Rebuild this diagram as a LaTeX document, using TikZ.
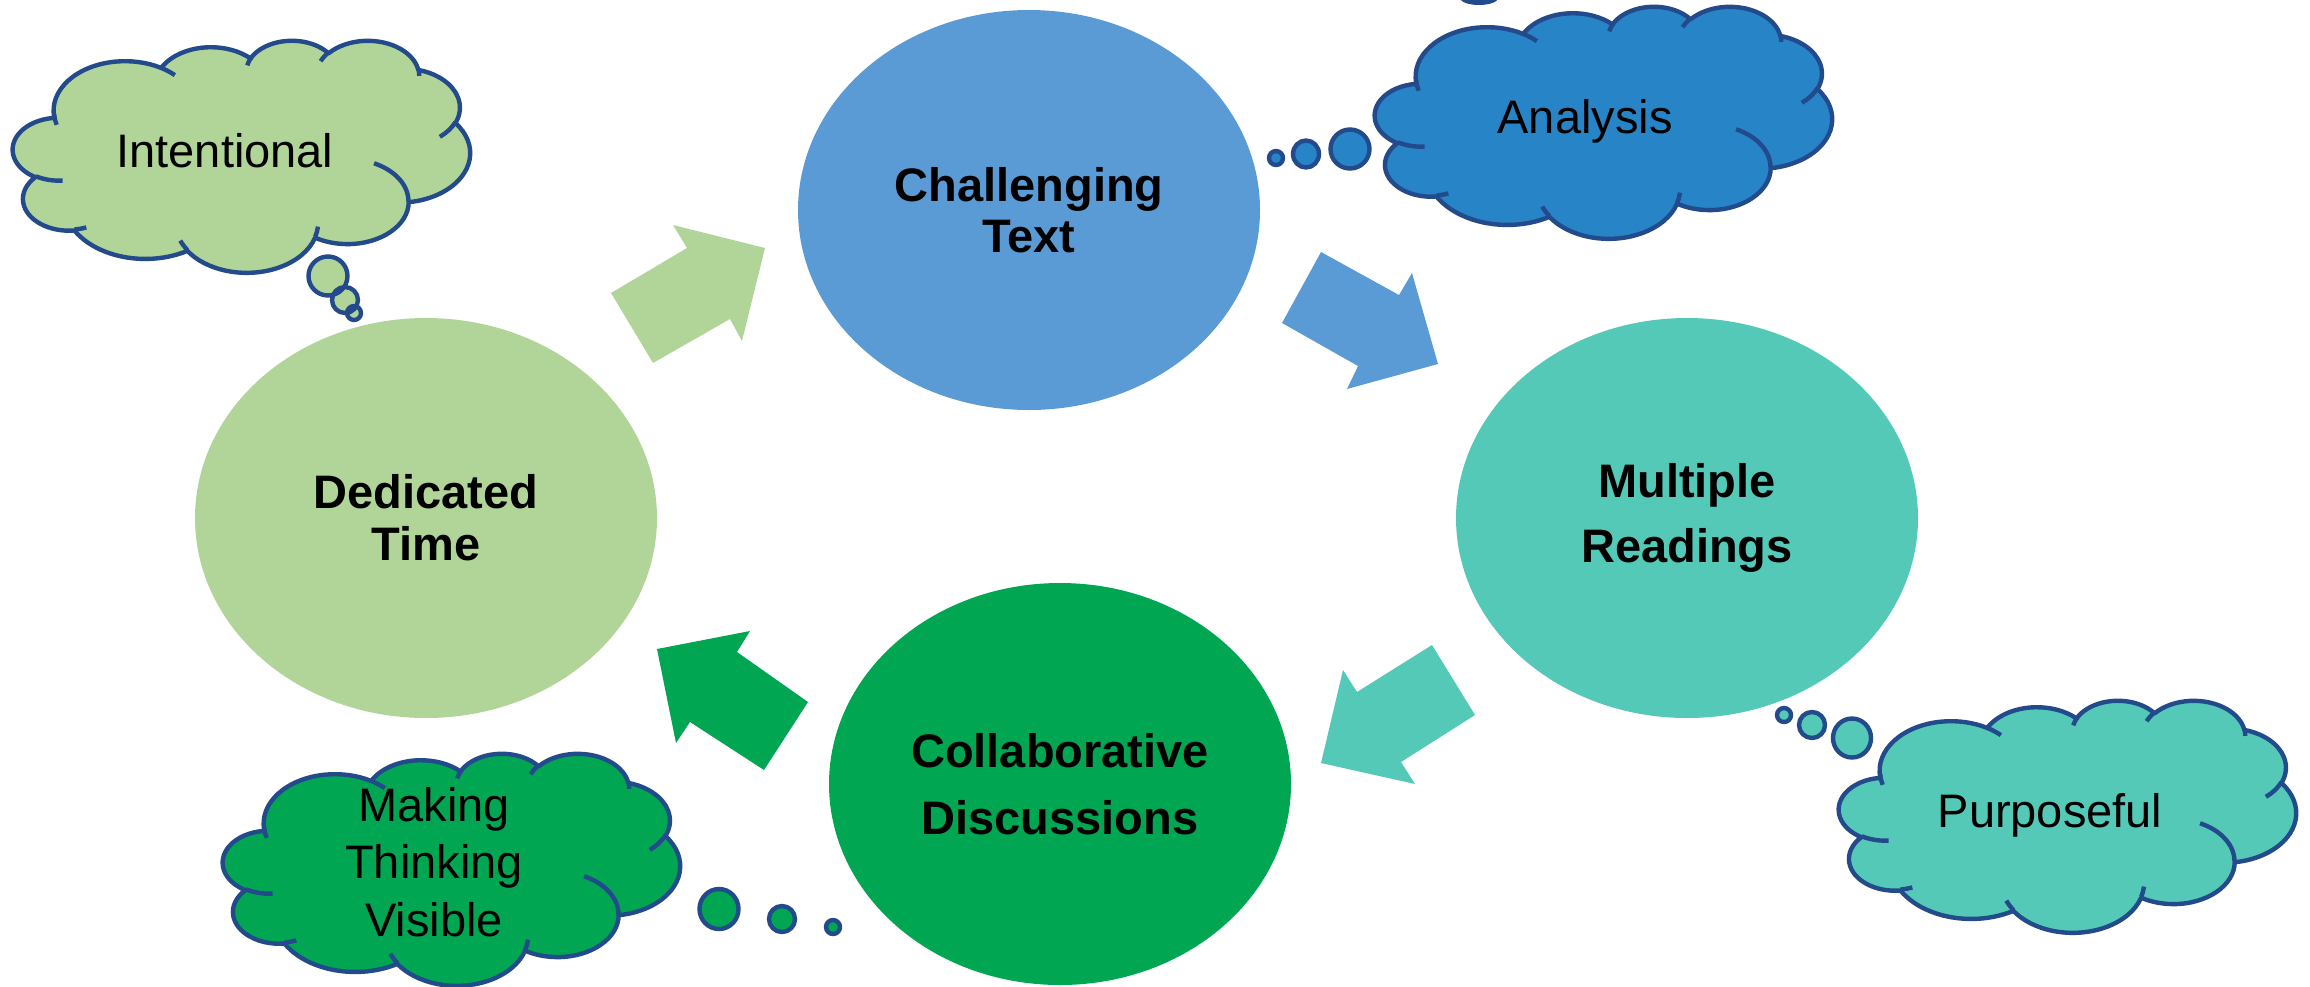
\documentclass[tikz,border=0pt]{standalone}
\usepackage{fontspec}
\setmainfont{Liberation Sans}
\usetikzlibrary{shapes.geometric}
\definecolor{lgreen}{HTML}{B1D598}
\definecolor{cblue}{HTML}{5B9BD5}
\definecolor{tealc}{HTML}{54C9B7}
\definecolor{dgreen}{HTML}{00A651}
\definecolor{ablue}{HTML}{2784C6}
\definecolor{cline}{HTML}{234A8A}
% arc of an OOXML-style cloud: wR, hR, visual start angle, visual sweep
\newcommand\carc[4]{arc[x radius=#1, y radius=#2, start angle={vp(#3,#1,#2)}, delta angle={mod(vp(#3+#4,#1,#2)-vp(#3,#1,#2)+720,360)}]}
\newcommand\cloudat[2]{%
  \begin{scope}[shift={#1}, xscale=1.0579, yscale=0.537]
    \filldraw[cloudline, fill=#2] (39.00,143.70)
      \carc{67.53}{91.90}{-190.48748}{123.78053}
      \carc{53.33}{72.67}{-144.10238}{89.94523}
      \carc{43.65}{59.45}{-145.80792}{99.72302}
      \carc{48.57}{65.95}{-130.98607}{117.24173}
      \carc{53.33}{72.73}{-78.70888}{109.02692}
      \carc{67.75}{92.20}{-46.26725}{130.269}
      \carc{57.85}{78.67}{0.62502}{114.03333}
      \carc{67.52}{92.15}{22.4516}{115.17255}
      \carc{77.20}{105.43}{66.24263}{75.71102}
      \carc{43.60}{59.18}{-274.94208}{146.73557}
      \carc{43.45}{59.45}{-246.8285}{152.51885}
      -- cycle;
    \draw[cloudline]
      (46.93,261.77) \carc{43.45}{59.45}{86.742}{26.4295}
      (69.28,348.99) \carc{43.60}{59.18}{73.61047}{11.44747}
      (164.78,390.90) \carc{67.52}{92.15}{137.62415}{14.0811}
      (288.27,347.51) \carc{67.52}{92.15}{6.45327}{15.99835}
      (341.29,229.54) \carc{57.85}{78.67}{-70.29235}{70.91737}
      (417.98,153.54) \carc{53.33}{72.73}{30.31803}{27.7515}
      (383.24,54.26) \carc{48.57}{65.95}{-13.74433}{14.8589}
      (290.78,39.52) \carc{48.57}{65.95}{-149.18145}{18.19537}
      (221.41,47.20) \carc{43.65}{59.45}{-163.49427}{17.68635}
      (140.00,51.92) \carc{67.53}{91.90}{-66.70695}{12.31935}
      (41.27,157.89) \carc{67.53}{91.90}{158.8431}{17.11507};
  \end{scope}}
\begin{document}
\begin{tikzpicture}[x=0.5pt, y=-0.5pt,
  declare function={vp(\a,\w,\h)=atan2(\w*sin(\a),\h*cos(\a));},
  cloudline/.style={draw=cline, line width=2.2pt, line join=round},
  oval/.style={ellipse, draw=none, inner sep=0pt, minimum width=462pt/2, minimum height=400pt/2, align=center},
  bold/.style={font=\bfseries\fontsize{23.5}{#1}\selectfont},
  ctext/.style={font=\fontsize{23.5}{28.75}\selectfont, align=center, inner sep=0pt},
  blockarrow/.style={draw=none}]
\useasboundingbox (0,0) rectangle (2310,986);

% main ellipses
\node[oval, fill=lgreen, bold=26] (dt) at (426,518) {Dedicated\\Time};
\node[oval, fill=cblue, bold=25.5] (ct) at (1029,210) {Challenging\\Text};
\node[oval, fill=tealc, bold=32.5] (mr) at (1687,518) {Multiple\\Readings};
\node[oval, fill=dgreen, bold=33.5, minimum height=402pt/2] (cd) at (1060,784) {Collaborative\\Discussions};

% block arrows
\fill[lgreen] (611,293) -- (687,248) -- (673,225) -- (765,248) -- (742,341) -- (730,319) -- (653,363) -- cycle;
\fill[cblue] (1321,252) -- (1399,295) -- (1412,273) -- (1438,364) -- (1347,389) -- (1358,366) -- (1282,323) -- cycle;
\fill[tealc] (1432,645) -- (1357,692) -- (1343,670) -- (1321,763) -- (1415,784) -- (1401,762) -- (1475,715) -- cycle;
\fill[dgreen] (808,702) -- (737,652) -- (750,631) -- (657,649) -- (676,743) -- (690,722) -- (764,770) -- cycle;

% stray bubble at the top edge
\fill[cline] (1479,-2) ellipse[x radius=19, y radius=7];

% clouds
\cloudat{(13,40)}{lgreen}
\cloudat{(1375,6)}{ablue}
\cloudat{(223,753)}{dgreen}
\cloudat{(1839,700)}{tealc}

% thought bubbles
\filldraw[cloudline, fill=lgreen] (328,276) ellipse[x radius=19.5, y radius=19.5]
  (345,300) ellipse[x radius=13, y radius=13] (354,313) ellipse[x radius=7, y radius=7];
\filldraw[cloudline, fill=ablue] (1350,149) ellipse[x radius=19.5, y radius=19.5]
  (1306,154) ellipse[x radius=13, y radius=13.5] (1276,158) ellipse[x radius=7, y radius=7];
\filldraw[cloudline, fill=dgreen] (719,909) ellipse[x radius=19.5, y radius=20]
  (782,919) ellipse[x radius=13, y radius=13] (833,927) ellipse[x radius=7, y radius=7];
\filldraw[cloudline, fill=tealc] (1852,738) ellipse[x radius=19, y radius=19.5]
  (1812,725) ellipse[x radius=13, y radius=13] (1784,715) ellipse[x radius=7, y radius=7];

% cloud texts
\node[ctext, anchor=base] (int) at (225,167) {Intentional};
\node[ctext, anchor=base] (ana) at (1585,133) {Analysis};
\node[ctext, anchor=base] (pur) at (2050,827) {Purposeful};
\node[ctext] (mtv) at (434,862) {Making\\Thinking\\Visible};
\end{tikzpicture}
\end{document}
